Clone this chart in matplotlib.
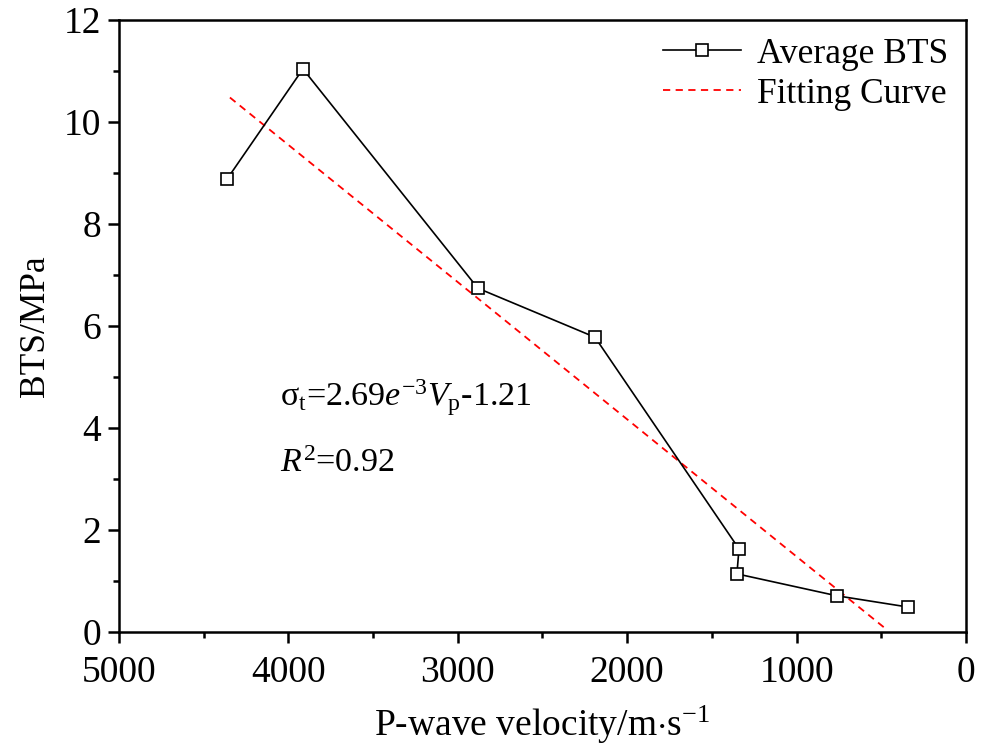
import numpy as np
import matplotlib
matplotlib.use("Agg")
import matplotlib.pyplot as plt
from matplotlib.ticker import MultipleLocator

plt.rcParams['font.family'] = ['Liberation Serif', 'DejaVu Serif']
plt.rcParams['mathtext.fontset'] = 'custom'
plt.rcParams['mathtext.rm'] = 'Liberation Serif'
plt.rcParams['mathtext.it'] = 'Liberation Serif:italic'

# datos
vp = [4362, 3914, 2881, 2190, 1340, 1352, 762, 343]
bts = [8.88, 11.04, 6.74, 5.78, 1.63, 1.14, 0.71, 0.49]

# extremos de la recta de ajuste
fit_x = [4345, 480]
fit_y = [10.48, 0.08]

fig = plt.figure(figsize=(9.88, 7.49), dpi=100)
ax = fig.add_axes([0.1204, 0.1562, 0.8573, 0.8171])

ax.plot(vp, bts, color="black", lw=1.2, marker="s", ms=9,
        mfc="white", mec="black", mew=1.2, label="Average BTS", zorder=3)
ax.plot(fit_x, fit_y, color="red", lw=1.3, ls=(0, (4, 3)), label="Fitting Curve", zorder=2)

ax.set_xlim(5000, 0)
ax.set_ylim(0, 12)
ax.xaxis.set_major_locator(MultipleLocator(1000))
ax.xaxis.set_minor_locator(MultipleLocator(500))
ax.yaxis.set_major_locator(MultipleLocator(2))
ax.yaxis.set_minor_locator(MultipleLocator(1))
ax.tick_params(which="major", direction="out", length=8, width=1.8, labelsize=27)
ax.tick_params(axis="x", which="major", pad=9)
ax.tick_params(axis="y", which="major", pad=5)
ax.tick_params(which="minor", direction="out", length=4, width=1.8)
for s in ax.spines.values():
    s.set_linewidth(1.8)

ax.set_xlabel("P-wave velocity/m$\\cdot$s$^{-1}$", fontsize=27, labelpad=10)
ax.set_ylabel("BTS/MPa", fontsize=25.5, labelpad=8)

ax.text(4050, 4.6, "$\\mathrm{σ_t}$=2.69$\\mathit{e}^{-3}\\mathit{V}_\\mathrm{p}$-1.21",
        fontsize=24.5, va="center", ha="left")
ax.text(4050, 3.3, "$\\mathit{R}^2$=0.92", fontsize=24.5, va="center", ha="left")

ax.legend(loc="upper right", frameon=False, fontsize=25.5, handlelength=2.2,
          handletextpad=0.45, borderaxespad=0.1, labelspacing=0.2)

plt.savefig("out.png", dpi=100)
